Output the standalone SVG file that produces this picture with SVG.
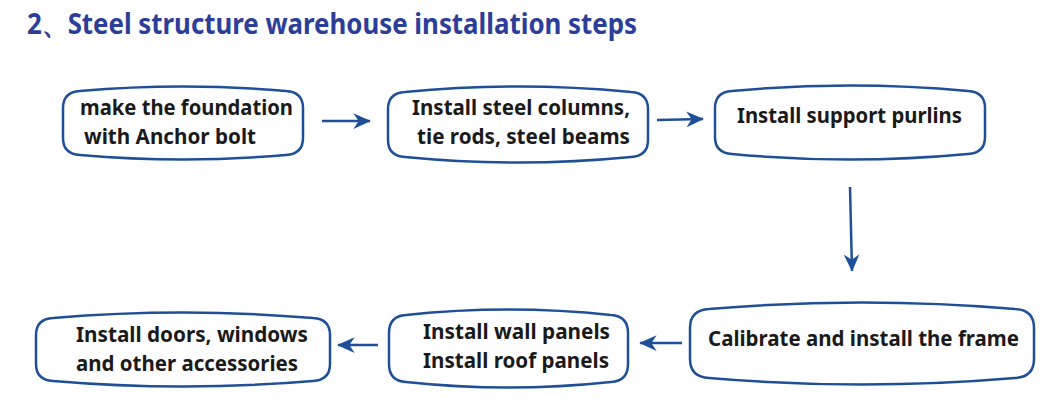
<svg xmlns="http://www.w3.org/2000/svg" width="1060" height="410" viewBox="0 0 1060 410">
<defs>
<style>
.box{fill:#fff;stroke:#1f5097;stroke-width:2.5}
.t{font-family:"Noto Sans","Liberation Sans",sans-serif;font-weight:bold;font-size:22px;fill:#1a1a1a}
.title{font-family:"Noto Sans","Liberation Sans",sans-serif;font-weight:bold;font-size:29px;fill:#2c3e98}
.arr{stroke:#1f5097;stroke-width:2.5;fill:none;marker-end:url(#ah)}
</style>
<marker id="ah" viewBox="0 0 10 10" refX="9.5" refY="5" markerWidth="7" markerHeight="7" orient="auto" markerUnits="strokeWidth">
<path d="M0,0.5 L10,5 L0,9.5 L3,5 Z" fill="#1f5097"/>
</marker>
</defs>
<rect width="1060" height="410" fill="#fff"/>
<text class="title" x="27" y="34" textLength="610" lengthAdjust="spacingAndGlyphs">2、Steel structure warehouse installation steps</text>
<g id="connectors">
<line class="arr" x1="322" y1="121" x2="370" y2="121"/>
<line class="arr" x1="657" y1="120" x2="703" y2="119"/>
<line class="arr" x1="850" y1="187" x2="852" y2="271"/>
<line class="arr" x1="682" y1="343" x2="640" y2="343"/>
<line class="arr" x1="378" y1="345" x2="338" y2="345"/>
</g>
<g id="n1">
<path class="box" d="M63,108 Q63,92 80,91 Q183,82 286,91 Q303,92 303,108 L303,138 Q303,154 286,155 Q183,164 80,155 Q63,154 63,138 Z"/>
<text class="t" x="80" y="115" textLength="213" lengthAdjust="spacingAndGlyphs">make the foundation</text>
<text class="t" x="84" y="144" textLength="172" lengthAdjust="spacingAndGlyphs">with Anchor bolt</text>
</g>
<g id="n2">
<path class="box" d="M388,109 Q388,93 405,92 Q518,81 631,92 Q648,93 648,109 L648,140 Q648,156 631,157 Q518,168 405,157 Q388,156 388,140 Z"/>
<text class="t" x="412" y="115" textLength="218" lengthAdjust="spacingAndGlyphs">Install steel columns,</text>
<text class="t" x="417" y="144" textLength="213" lengthAdjust="spacingAndGlyphs">tie rods, steel beams</text>
</g>
<g id="n3">
<path class="box" d="M715,108 Q715,92 732,91 Q850,80 968,91 Q985,92 985,108 L985,137 Q985,153 968,154 Q850,165 732,154 Q715,153 715,137 Z"/>
<text class="t" x="737" y="123" textLength="225" lengthAdjust="spacingAndGlyphs">Install support purlins</text>
</g>
<g id="n4">
<path class="box" d="M690,328 Q690,310 709,309 Q862,296 1015,309 Q1034,310 1034,328 L1034,359 Q1034,377 1015,378 Q862,391 709,378 Q690,377 690,359 Z"/>
<text class="t" x="708" y="346" textLength="311" lengthAdjust="spacingAndGlyphs">Calibrate and install the frame</text>
</g>
<g id="n5">
<path class="box" d="M389,333 Q389,316 406,315 Q508,304 611,315 Q628,316 628,333 L628,364 Q628,381 611,382 Q508,393 406,382 Q389,381 389,364 Z"/>
<text class="t" x="423" y="339" textLength="187" lengthAdjust="spacingAndGlyphs">Install wall panels</text>
<text class="t" x="423" y="368" textLength="186" lengthAdjust="spacingAndGlyphs">Install roof panels</text>
</g>
<g id="n6">
<path class="box" d="M36,335 Q36,319 53,318 Q183,307 313,318 Q330,319 330,335 L330,364 Q330,380 313,381 Q183,392 53,381 Q36,380 36,364 Z"/>
<text class="t" x="76" y="342" textLength="232" lengthAdjust="spacingAndGlyphs">Install doors, windows</text>
<text class="t" x="76" y="371" textLength="222" lengthAdjust="spacingAndGlyphs">and other accessories</text>
</g>
</svg>
